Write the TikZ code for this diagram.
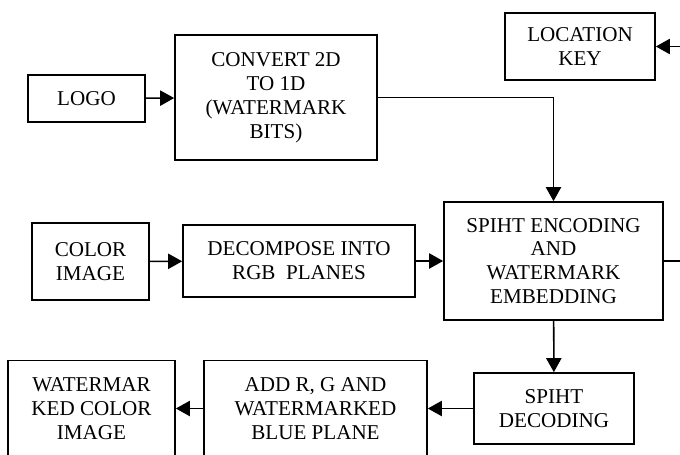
\documentclass[tikz,border=0pt]{standalone}
\usepackage{fontspec}
\setmainfont{Liberation Serif}
\usetikzlibrary{arrows.meta}

\begin{document}
\begin{tikzpicture}[x=0.025cm, y=-0.025cm, line width=1.1pt,
	blk/.style={draw, line width=1.2pt, align=center, inner sep=0pt, font=\fontsize{15}{17}\selectfont},
	arr/.style={-{Triangle[length=0.35cm, width=0.38cm]}}]
	\clip (0,0) rectangle (680,455);
	\node[blk, minimum width=117*0.025cm, minimum height=47*0.025cm] (logo) at (86.5,98.5) {LOGO};
	\node[blk, minimum width=202*0.025cm, minimum height=125*0.025cm] (conv) at (276,97.5) {CONVERT 2D\\TO 1D\\(WATERMARK\\BITS)};
	\node[blk, minimum width=150*0.025cm, minimum height=67*0.025cm] (lockey) at (580,46.5) {LOCATION\\KEY};
	\node[blk, minimum width=117*0.025cm, minimum height=77*0.025cm] (colimg) at (90.5,261.5) {COLOR\\IMAGE};
	\node[blk, minimum width=232*0.025cm, minimum height=72*0.025cm] (decomp) at (299,261) {DECOMPOSE INTO\\RGB\ \ PLANES};
	\node[blk, minimum width=219*0.025cm, minimum height=118*0.025cm] (enc) at (553.5,261) {SPIHT ENCODING\\AND\\WATERMARK\\EMBEDDING};
	\node[blk, minimum width=160*0.025cm, minimum height=71*0.025cm] (dec) at (554,408.5) {SPIHT\\DECODING};
	\node[blk, minimum width=223*0.025cm, minimum height=96*0.025cm] (addrgb) at (315.5,408.5) {ADD R, G AND\\WATERMARKED\\BLUE PLANE};
	\node[blk, minimum width=167*0.025cm, minimum height=96*0.025cm] (wmimg) at (91.5,408.5) {WATERMAR\\KED COLOR\\IMAGE};
	\coordinate (keyin) at (680,46.5);
	\coordinate (encout) at (680,261);
	\draw[arr] (logo) -- (conv);
	\draw[arr] (conv.east) -| (enc.north);
	\draw[arr] (keyin) -- (lockey);
	\draw[arr] (colimg) -- (decomp);
	\draw[arr] (decomp) -- (enc);
	\draw (enc) -- (encout);
	\draw[arr] (enc) -- (dec);
	\draw[arr] (dec) -- (addrgb);
	\draw[arr] (addrgb) -- (wmimg);
\end{tikzpicture}
\end{document}
